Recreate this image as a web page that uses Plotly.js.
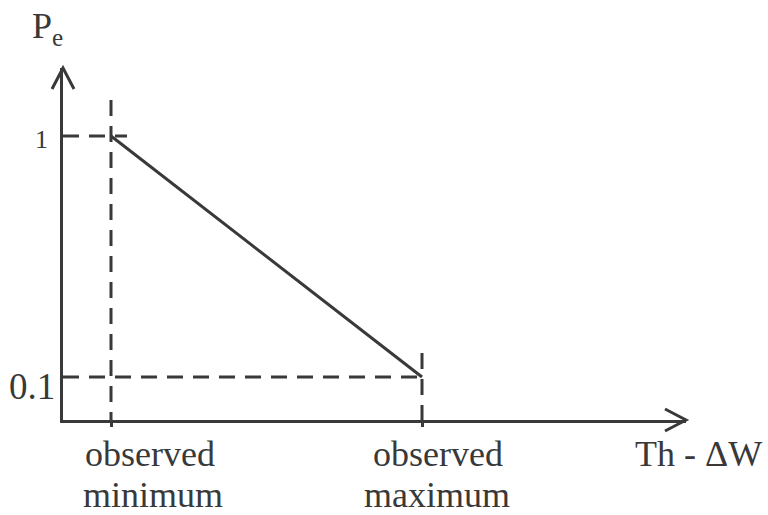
<!DOCTYPE html>
<html>
<head>
<meta charset="utf-8">
<script src="https://cdn.plot.ly/plotly-3.0.1.min.js"></script>
<style>html,body{margin:0;padding:0;background:#fff;}#chart{width:768px;height:515px;}</style>
</head>
<body>
<div id="chart"></div>
<script>
// ---- data ----
const xCategories = ['observed minimum', 'observed maximum'];
const xLabelLines = [['observed', 'minimum'], ['observed', 'maximum']];
const xPos = [1, 2];
const peValues = [1, 0.1];
const yTickVals = [1, 0.1];
const yTickText = ['1', '0.1'];
const xAxisTitle = 'Th - \u0394W';
const yAxisTitle = 'P<sub>e</sub>';

// ---- layout geometry ----
const W = 768, H = 515;
const M = {l: 63, r: 82, t: 68, b: 95};
const plotW = W - M.l - M.r, plotH = H - M.t - M.b;
const xRange = [0.84566, 2.84887];
const yRange = [-0.06058, 1.25394];
const pxX = plotW / (xRange[1] - xRange[0]);
const pxY = plotH / (yRange[1] - yRange[0]);

const ink = '#393939';
const lw = 3;
const dashStyle = '16px,10px';
const font = 'Liberation Serif, Times New Roman, serif';

const traces = [];
// dashed guide: vertical at observed minimum (drawn top -> axis)
traces.push({x: [xPos[0], xPos[0]], y: [peValues[0] + 36 / pxY, yRange[0]],
  mode: 'lines', line: {color: ink, width: lw, dash: dashStyle}, hoverinfo: 'skip'});
// dashed guide: horizontal at Pe=1
traces.push({x: [xRange[0], xPos[0] + 16 / pxX], y: [peValues[0], peValues[0]],
  mode: 'lines', line: {color: ink, width: lw, dash: dashStyle}, hoverinfo: 'skip'});
// dashed guide: horizontal at Pe=0.1
traces.push({x: [xRange[0], xPos[1]], y: [peValues[1], peValues[1]],
  mode: 'lines', line: {color: ink, width: lw, dash: dashStyle}, hoverinfo: 'skip'});
// dashed guide: vertical at observed maximum
traces.push({x: [xPos[1], xPos[1]], y: [peValues[1] + 24 / pxY, yRange[0]],
  mode: 'lines', line: {color: ink, width: lw, dash: dashStyle}, hoverinfo: 'skip'});
// main line
traces.push({x: xPos, y: peValues, mode: 'lines',
  line: {color: ink, width: lw}, hoverinfo: 'skip'});

const annotations = [];
// y tick labels
const yTickFont = [26, 37];
const yTickShift = [[-13, -3], [-6, -9]];
yTickVals.forEach((v, i) => {
  annotations.push({xref: 'x', yref: 'y', x: xRange[0], y: v, text: yTickText[i],
    showarrow: false, xanchor: 'right', yanchor: 'middle',
    xshift: yTickShift[i][0], yshift: yTickShift[i][1],
    font: {family: font, size: yTickFont[i], color: ink}});
});
// x category labels
const xLabelShift = [39, 16];
xLabelLines.forEach((lines, i) => {
  lines.forEach((t, j) => {
    annotations.push({xref: 'x', yref: 'y', x: xPos[i], y: yRange[0], text: t,
      showarrow: false, xanchor: 'center', yanchor: 'top', borderpad: 0,
      xshift: xLabelShift[i] + (j === 1 ? (i === 0 ? 3 : -1) : 0), yshift: j === 0 ? -13 : -54,
      font: {family: font, size: 36, color: ink}});
  });
});
// axis titles
annotations.push({xref: 'x', yref: 'y', x: xRange[1], y: yRange[0], text: xAxisTitle,
  showarrow: false, xanchor: 'center', yanchor: 'top', xshift: 12, yshift: -13, borderpad: 0,
  font: {family: font, size: 36, color: ink}});
annotations.push({xref: 'x', yref: 'y', x: xRange[0], y: yRange[1], text: yAxisTitle,
  showarrow: false, xanchor: 'left', yanchor: 'top', xshift: -33, yshift: 64,
  font: {family: font, size: 36, color: ink}});

// arrowheads (open chevrons) at the axis ends, in paper coords so they are not clipped
const shapes = [
  {type: 'path', xref: 'paper', yref: 'paper', xsizemode: 'pixel', ysizemode: 'pixel',
   xanchor: 1, yanchor: 0, path: 'M -21 11 L 0 0 L -21 -11',
   line: {color: ink, width: lw}},
  {type: 'path', xref: 'paper', yref: 'paper', xsizemode: 'pixel', ysizemode: 'pixel',
   xanchor: 0, yanchor: 1, path: 'M -11 -21 L 0 0 L 11 -21',
   line: {color: ink, width: lw}}
];

const layout = {
  width: W, height: H,
  margin: M,
  paper_bgcolor: '#fff', plot_bgcolor: '#fff',
  showlegend: false,
  xaxis: {range: xRange, showgrid: false, zeroline: false, showline: true,
    linecolor: ink, linewidth: lw, tickvals: xPos, ticks: 'outside', ticklen: 4,
    tickwidth: lw, tickcolor: ink, showticklabels: false, fixedrange: true},
  yaxis: {range: yRange, showgrid: false, zeroline: false, showline: true,
    linecolor: ink, linewidth: lw, ticks: '', showticklabels: false, fixedrange: true},
  annotations: annotations,
  shapes: shapes
};

Plotly.newPlot('chart', traces, layout, {displayModeBar: false, staticPlot: true});
</script>
</body>
</html>
